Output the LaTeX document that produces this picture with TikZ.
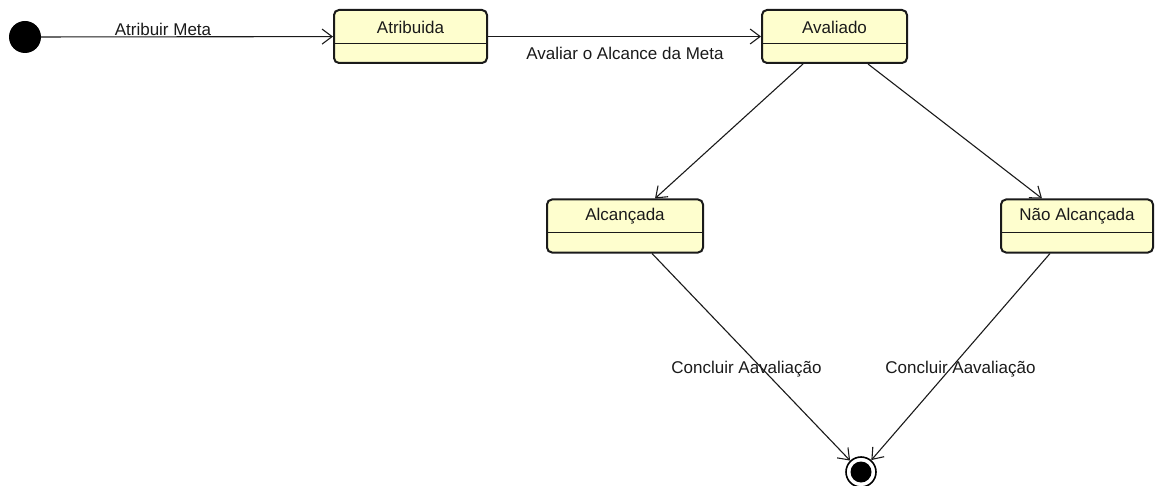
\documentclass[tikz,border=0pt]{standalone}
\usepackage{fontspec}
\setmainfont{Liberation Sans}
\usetikzlibrary{arrows.meta,calc}
\definecolor{statefill}{HTML}{FEFECE}
\definecolor{ink}{HTML}{1A1A1A}
\tikzset{
  statebox/.style={draw=ink, line width=2pt, rounded corners=5pt, fill=statefill,
    minimum width=#1, minimum height=53pt, inner sep=0pt},
  statebox/.default=153pt,
  lbl/.style={font=\fontsize{17}{20}\selectfont, text=ink, inner sep=0pt},
  divider/.style={draw=ink, line width=1pt},
  tr/.style={draw=ink, line width=1.1pt, -{Straight Barb[length=10pt,width=15pt,line width=1.1pt]}},
  initstate/.style={circle, fill=black, minimum size=32pt, inner sep=0pt},
  finalstate/.style={circle, draw=black, line width=1.6pt, fill=white, minimum size=30pt, inner sep=0pt}
}
\begin{document}
\begin{tikzpicture}[x=1pt,y=-1pt]
\useasboundingbox (0,0) rectangle (1155,486);

% states
\node[initstate] (ini) at (25,37) {};
\node[statebox] (atr) at (410.5,36.5) {};
\node[statebox=145pt] (ava) at (834.5,36.5) {};
\node[statebox=156pt] (alc) at (625,226) {};
\node[statebox=152pt] (nao) at (1077,226) {};
\node[finalstate] (fin) at (861,472) {};
\fill[black] (fin.center) circle (10.5pt);

% compartment dividers
\foreach \s in {atr,ava}
  \draw[divider] ($(\s.west)+(0,7.5)$) -- ($(\s.east)+(0,7.5)$);
\foreach \s in {alc,nao}
  \draw[divider] ($(\s.west)+(0,7)$) -- ($(\s.east)+(0,7)$);

% state names
\node[lbl] (atrT) at ($(atr.center)+(0,-9.5)$) {Atribuida};
\node[lbl] (avaT) at ($(ava.center)+(0,-9.5)$) {Avaliado};
\node[lbl] (alcT) at ($(alc.center)+(0,-10)$) {Alcançada};
\node[lbl] (naoT) at ($(nao.center)+(0,-10)$) {Não Alcançada};

% transitions
\draw[tr] (ini) -- (atr);
\draw[tr] (atr) -- (ava);
\draw[tr] ($(ava.south)+(-31.5,0)$) -- ($(alc.north)+(30,0)$);
\draw[tr] ($(ava.south)+(33.5,0)$) -- ($(nao.north)+(-35,0)$);
\draw[tr] ($(alc.south)+(27,0)$) -- (fin);
\draw[tr] ($(nao.south)+(-27,0)$) -- (fin);

% transition labels
\node[lbl] (l1) at (163,29) {Atribuir Meta};
\node[lbl] (l2) at (625,53.5) {Avaliar o Alcance da Meta};
\node[lbl] (l3) at (746.5,369) {Concluir Aavaliação};
\node[lbl] (l4) at (960.5,369) {Concluir Aavaliação};
\end{tikzpicture}
\end{document}
